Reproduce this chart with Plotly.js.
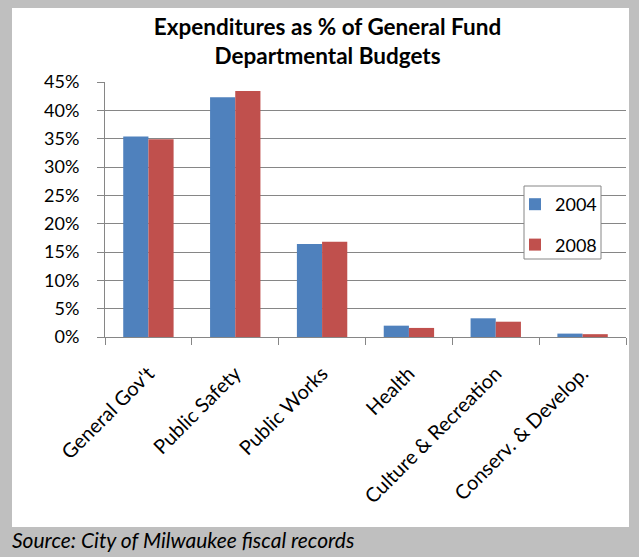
<!DOCTYPE html>
<html>
<head>
<meta charset="utf-8">
<script src="https://cdn.plot.ly/plotly-3.0.1.min.js"></script>
<style>html,body{margin:0;padding:0;background:#bfbfbf;}#chart{width:639px;height:557px;}</style>
</head>
<body>
<div id="chart"></div>
<script>
const categories = ["General Gov't", "Public Safety", "Public Works", "Health", "Culture & Recreation", "Conserv. & Develop."];
const values2004 = [0.354, 0.423, 0.164, 0.020, 0.033, 0.006];
const values2008 = [0.349, 0.434, 0.168, 0.016, 0.027, 0.005];
const seriesNames = ["2004", "2008"];
const yTicks = [0, 0.05, 0.10, 0.15, 0.20, 0.25, 0.30, 0.35, 0.40, 0.45];
const yTickLabels = ["0%", "5%", "10%", "15%", "20%", "25%", "30%", "35%", "40%", "45%"];

const font = "Lato, 'Open Sans', sans-serif";
const L = 105, R = 626, T = 82, B = 337;
const PW = R - L, PH = B - T;
const px = v => (v - L) / PW;
const py = v => (B - v) / PH;

const data = [
  {type: "bar", name: seriesNames[0], legendgroup: "a", x: categories, y: values2004, marker: {color: "#4f81bd", line: {width: 0}}},
  {type: "bar", name: seriesNames[1], legendgroup: "b", x: categories, y: values2008, marker: {color: "#c0504d", line: {width: 0}}}
];
const layout = {
  width: 639, height: 557,
  paper_bgcolor: "#bfbfbf",
  plot_bgcolor: "#ffffff",
  margin: {l: L, r: 639 - R, t: T, b: 557 - B},
  barmode: "group",
  bargap: 0.42,
  bargroupgap: 0,
  showlegend: true,
  font: {family: font, color: "#000", size: 18},
  title: {
    text: "<b>Expenditures as % of General Fund<br>Departmental Budgets</b>",
    x: 327.5 / 639, xanchor: "center", y: 1 - 34.5 / 557, yanchor: "middle",
    font: {family: font, size: 22.5, color: "#000"}
  },
  xaxis: {
    type: "category",
    tickangle: -45,
    ticks: "outside", ticklen: 7, tickcolor: "#868686",
    tickson: "boundaries",
    ticklabelstandoff: 16,
    showline: true, linecolor: "#868686", linewidth: 1,
    showgrid: false,
    tickfont: {family: font, size: 20, color: "#000"}
  },
  yaxis: {
    range: [0, 0.45],
    tickvals: yTicks, ticktext: yTickLabels,
    ticks: "outside", ticklen: 7, tickcolor: "#868686",
    ticklabelstandoff: 14,
    showline: true, linecolor: "#868686", linewidth: 1,
    showgrid: true, gridcolor: "#868686", gridwidth: 1,
    zeroline: false,
    tickfont: {family: font, size: 18, color: "#000"}
  },
  legend: {
    x: px(515), xanchor: "left", y: py(186), yanchor: "top",
    bgcolor: "rgba(0,0,0,0)", borderwidth: 0,
    font: {family: font, size: 18, color: "#000"},
    tracegroupgap: 14, itemwidth: 30
  },
  shapes: [
    {type: "rect", xref: "paper", yref: "paper", layer: "below",
     x0: px(12), x1: px(629), y0: py(527), y1: py(8),
     fillcolor: "#ffffff", line: {width: 0}},
    {type: "rect", xref: "paper", yref: "paper", layer: "above",
     x0: px(524), x1: px(601), y0: py(259), y1: py(186),
     fillcolor: "#ffffff", line: {width: 1, color: "#868686"}}
  ],
  annotations: [
    {xref: "paper", yref: "paper", x: px(10), y: py(539), xanchor: "left", yanchor: "middle",
     text: "<i>Source: City of Milwaukee fiscal records</i>", showarrow: false,
     font: {family: font, size: 21, color: "#000"}}
  ]
};
Plotly.newPlot("chart", data, layout, {displayModeBar: false, staticPlot: true});
</script>
</body>
</html>
